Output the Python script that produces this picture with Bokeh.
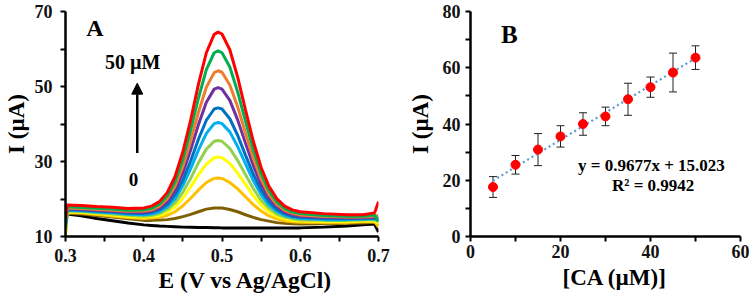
from bokeh.plotting import figure
from bokeh.layouts import row
from bokeh.models import (FixedTicker, Label, Arrow, NormalHead, Whisker, TeeHead,
                          ColumnDataSource, Range1d, Title)
from bokeh.embed import file_html
from bokeh.resources import INLINE

FONT = "Liberation Serif"

# ---------------- Panel A : DPV curves ----------------
potential = [0.300, 0.302, 0.32, 0.34, 0.36, 0.38, 0.40, 0.41, 0.42, 0.43, 0.44, 0.45,
             0.46, 0.47, 0.48, 0.49, 0.495, 0.50, 0.51, 0.52, 0.53, 0.54, 0.55, 0.56,
             0.57, 0.58, 0.59, 0.60, 0.63, 0.66, 0.68, 0.695, 0.70]

i_0uM = [11.5, 16.0, 15.5, 14.8, 14.2, 13.6, 13.1, 12.95, 12.8, 12.7, 12.6, 12.5, 12.45, 12.4,
         12.4, 12.35, 12.35, 12.3, 12.3, 12.3, 12.3, 12.25, 12.25, 12.25, 12.25, 12.25, 12.3,
         12.3, 12.5, 12.8, 13.1, 13.3, 11.2]
i_5uM = [11.0, 16.2, 16.0, 15.6, 15.2, 14.7, 14.3, 14.3, 14.4, 14.5, 14.8, 15.3, 15.9, 16.6,
         17.3, 17.6, 17.6, 17.6, 17.2, 16.6, 15.8, 15.1, 14.5, 14.1, 13.7, 13.5, 13.4, 13.3,
         13.4, 13.5, 13.6, 13.8, 13.0]
i_10uM = [10.6, 16.4, 16.25, 15.85, 15.45, 15.05, 14.8, 14.9, 15.1, 15.6, 16.6, 18.2, 20.2,
          22.4, 24.4, 25.5, 25.6, 25.5, 24.4, 22.7, 20.6, 18.5, 16.8, 15.5, 14.7, 14.2, 13.9,
          13.8, 13.7, 13.7, 13.9, 14.0, 12.5]
i_15uM = [10.5, 16.6, 16.45, 16.1, 15.75, 15.35, 15.1, 15.3, 15.6, 16.5, 17.9, 20.2, 23.2,
          26.5, 29.3, 31.0, 31.2, 31.0, 29.5, 26.9, 23.9, 20.9, 18.4, 16.6, 15.4, 14.7, 14.3,
          14.1, 14.0, 14.0, 14.1, 14.2, 13.5]
i_20uM = [12.0, 16.8, 16.65, 16.3, 16.0, 15.65, 15.4, 15.6, 16.1, 17.2, 19.0, 21.8, 25.5,
          29.7, 33.3, 35.4, 35.6, 35.4, 33.5, 30.3, 26.5, 22.8, 19.7, 17.5, 16.0, 15.2, 14.7,
          14.4, 14.3, 14.3, 14.4, 14.5, 14.0]
i_25uM = [12.5, 17.0, 16.85, 16.55, 16.3, 15.95, 15.8, 16.0, 16.6, 17.9, 20.1, 23.6, 28.1,
          33.1, 37.5, 40.1, 40.4, 40.1, 37.9, 34.0, 29.4, 24.9, 21.2, 18.4, 16.7, 15.6, 15.1,
          14.8, 14.5, 14.5, 14.6, 14.7, 14.2]
i_30uM = [13.0, 17.2, 17.05, 16.8, 16.55, 16.2, 16.1, 16.4, 17.1, 18.5, 21.1, 25.0, 30.2,
          36.0, 41.0, 44.0, 44.3, 44.0, 41.4, 37.0, 31.7, 26.6, 22.4, 19.3, 17.2, 16.1, 15.4,
          15.1, 14.8, 14.7, 14.8, 14.9, 14.5]
i_35uM = [13.5, 17.4, 17.25, 17.0, 16.8, 16.5, 16.4, 16.8, 17.6, 19.3, 22.3, 27.0, 33.1,
          39.9, 45.8, 49.3, 49.7, 49.3, 46.3, 41.1, 34.9, 28.9, 23.9, 20.3, 17.9, 16.5, 15.8,
          15.4, 15.1, 15.0, 15.0, 15.1, 14.8]
i_40uM = [14.0, 17.6, 17.45, 17.2, 17.0, 16.7, 16.8, 17.1, 18.1, 20.0, 23.4, 28.7, 35.5,
          43.2, 49.8, 53.7, 54.2, 53.8, 50.4, 44.6, 37.6, 30.9, 25.3, 21.2, 18.5, 17.0, 16.2,
          15.7, 15.3, 15.2, 15.2, 15.4, 15.6]
i_45uM = [13.0, 17.9, 17.75, 17.5, 17.3, 17.0, 17.1, 17.5, 18.6, 20.8, 24.6, 30.6, 38.4,
          47.0, 54.5, 59.0, 59.5, 59.0, 55.2, 48.6, 40.8, 33.2, 26.8, 22.2, 19.2, 17.5, 16.5,
          16.1, 15.6, 15.4, 15.4, 15.7, 14.0]
i_50uM = [15.0, 18.4, 18.25, 18.0, 17.8, 17.45, 17.6, 18.1, 19.3, 21.7, 26.0, 32.6, 41.1,
          50.7, 59.0, 63.9, 64.5, 64.0, 59.8, 52.5, 43.8, 35.4, 28.4, 23.4, 20.1, 18.1, 17.1,
          16.6, 16.1, 15.8, 15.8, 16.3, 19.3]

curves = [i_0uM, i_5uM, i_10uM, i_15uM, i_20uM, i_25uM, i_30uM, i_35uM, i_40uM, i_45uM, i_50uM]
curve_colors = ["#000000", "#7F6000", "#FFC000", "#FFFF00", "#92D050", "#00B0F0",
                "#0070C0", "#7030A0", "#ED7D31", "#00B050", "#FF0000"]

a_xticks = [0.3, 0.4, 0.5, 0.6, 0.7]
a_xminor = [0.35, 0.45, 0.55, 0.65]
a_yticks = [10, 30, 50, 70]
a_yminor = [20, 40, 60]

# ---------------- Panel B : calibration ----------------
conc = [5, 10, 15, 20, 25, 30, 35, 40, 45, 50]
peak_current = [17.6, 25.5, 30.9, 35.6, 40.0, 42.7, 48.8, 53.1, 58.3, 63.6]
error = [3.7, 3.3, 5.7, 3.8, 4.0, 3.3, 5.7, 3.6, 6.9, 4.2]
slope, intercept = 0.9677, 15.023

b_xticks = [0, 20, 40, 60]
b_xminor = [10, 30, 50]
b_yticks = [0, 20, 40, 60, 80]
b_yminor = [10, 30, 50, 70]


def style(p, xt, xm, yt, ym):
    p.xaxis.ticker = FixedTicker(ticks=xt, minor_ticks=xm)
    p.yaxis.ticker = FixedTicker(ticks=yt, minor_ticks=ym)
    for ax in (p.xaxis[0], p.yaxis[0]):
        ax.axis_line_width = 2.5
        ax.axis_line_color = "black"
        ax.major_tick_line_width = 2
        ax.minor_tick_line_width = 2
        ax.major_tick_line_color = "black"
        ax.minor_tick_line_color = "black"
        ax.major_tick_out = 5
        ax.major_tick_in = 0
        ax.minor_tick_out = 5
        ax.minor_tick_in = 0
        ax.major_label_text_font = FONT
        ax.major_label_text_font_style = "bold"
        ax.major_label_text_font_size = "18px"
        ax.major_label_text_color = "#111111"
        ax.axis_label_text_font = FONT
        ax.axis_label_text_font_style = "bold"
        ax.axis_label_text_font_size = "23px"
        ax.axis_label_text_color = "black"
    p.xgrid.visible = False
    p.ygrid.visible = False
    p.outline_line_color = None


def lab(p, x, y, text, size, align="left"):
    p.add_layout(Label(x=x, y=y, text=text, text_font=FONT, text_font_style="bold",
                       text_font_size=size, text_color="black", text_align=align,
                       text_baseline="middle"))


def xtitle(p, text, size, offset, standoff):
    p.add_layout(Title(text=text, align="left", offset=offset, standoff=standoff,
                       text_font=FONT, text_font_style="bold", text_font_size=size,
                       text_color="black"), "below")


# Panel A figure
pA = figure(width=400, height=297, output_backend="svg", toolbar_location=None,
            x_range=Range1d(0.3, 0.7), y_range=Range1d(10, 70),
            min_border_left=62, min_border_right=22, min_border_top=11, min_border_bottom=61)
style(pA, a_xticks, a_xminor, a_yticks, a_yminor)
pA.yaxis.major_label_standoff = 8
pA.xaxis.major_label_standoff = 7
pA.yaxis.axis_label = "I (µA)"
pA.yaxis.axis_label_standoff = 3
for ys, c in zip(curves, curve_colors):
    pA.line(potential, ys, line_color=c, line_width=3)

lab(pA, 0.3265, 65.5, "A", "24px")
lab(pA, 0.3506, 56.5, "50 µM", "20px")
lab(pA, 0.387, 25.1, "0", "19px", align="center")
arrow_x, arrow_y0, arrow_y1 = 0.3917, 32.3, 50.9
pA.add_layout(Arrow(end=NormalHead(size=11, fill_color="black", line_color="black"),
                    x_start=arrow_x, y_start=arrow_y0, x_end=arrow_x, y_end=arrow_y1,
                    line_width=2.5, line_color="black"))
xtitle(pA, "E (V vs Ag/AgCl)", "23.5px", 93, 1)

# Panel B figure
pB = figure(width=349, height=297, output_backend="svg", toolbar_location=None,
            x_range=Range1d(0, 60), y_range=Range1d(0, 80),
            min_border_left=70, min_border_right=9, min_border_top=5, min_border_bottom=61)
style(pB, b_xticks, b_xminor, b_yticks, b_yminor)
pB.yaxis.major_label_standoff = 5
pB.xaxis.major_label_standoff = 3
pB.yaxis.axis_label = "I (µA)"
pB.yaxis.axis_label_standoff = 7

src = ColumnDataSource(dict(x=conc, y=peak_current,
                            upper=[v + e for v, e in zip(peak_current, error)],
                            lower=[v - e for v, e in zip(peak_current, error)]))
fit_x = [min(conc), max(conc)]
fit_y = [slope * v + intercept for v in fit_x]
pB.line(fit_x, fit_y, line_color="#5B9BD5", line_width=2.2, line_dash="2 3")
pB.add_layout(Whisker(source=src, base="x", upper="upper", lower="lower", dimension="height",
                      line_color="#222222", line_width=1, level="underlay",
                      upper_head=TeeHead(size=8, line_color="#222222", line_width=1),
                      lower_head=TeeHead(size=8, line_color="#222222", line_width=1)))
pB.scatter("x", "y", source=src, size=9, fill_color="#FF0000", line_color="#FF0000")

lab(pB, 6.8, 72.0, "B", "25px")
lab(pB, 40.2, 25.3, "y = 0.9677x + 15.023", "17px", align="center")
lab(pB, 40.6, 18.3, "R² = 0.9942", "17px", align="center")
xtitle(pB, "[CA (µM)]", "23px", 92, 4)

layout = row(pA, pB)
open("out.html", "w").write(file_html(layout, INLINE))
